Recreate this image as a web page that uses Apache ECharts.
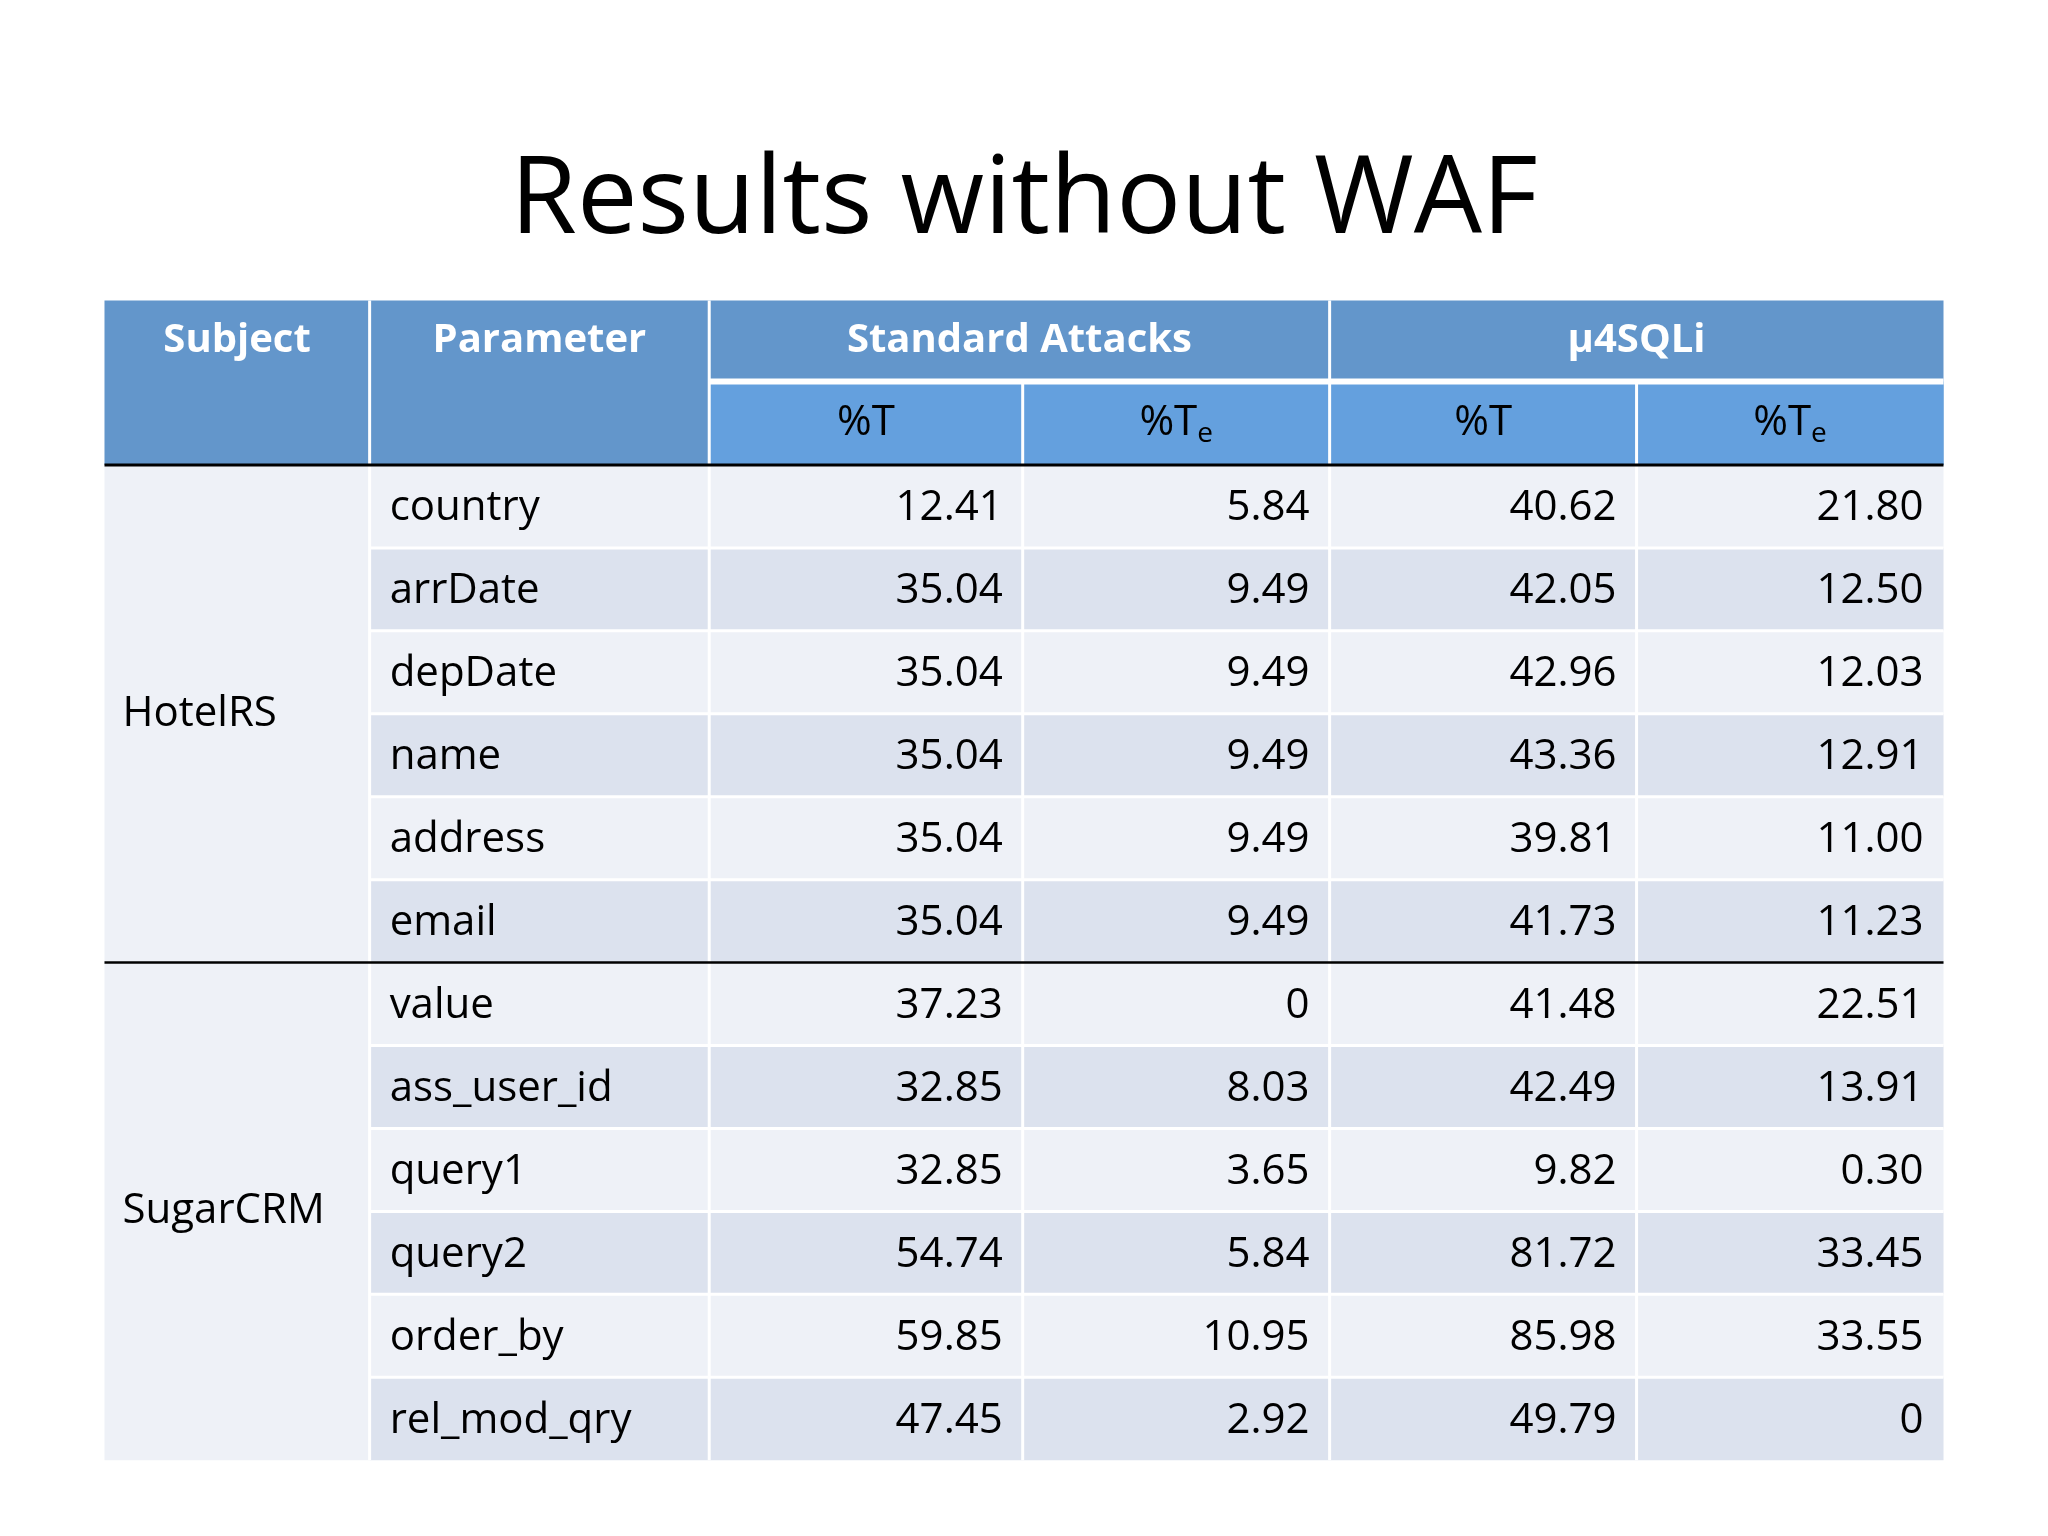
<!DOCTYPE html>
<html><head><meta charset="utf-8">
<script src="https://cdn.jsdelivr.net/npm/echarts@6/dist/echarts.min.js"></script>
<style>html,body{margin:0;padding:0;background:#fff}#c{width:2048px;height:1536px}</style>
</head><body><div id="c"></div>
<script>
const title = "Results without WAF";
const subjects = ["HotelRS", "SugarCRM"];
const parameters = ["country","arrDate","depDate","name","address","email","value","ass_user_id","query1","query2","order_by","rel_mod_qry"];
const stdT  = ["12.41","35.04","35.04","35.04","35.04","35.04","37.23","32.85","32.85","54.74","59.85","47.45"];
const stdTe = ["5.84","9.49","9.49","9.49","9.49","9.49","0","8.03","3.65","5.84","10.95","2.92"];
const muT   = ["40.62","42.05","42.96","43.36","39.81","41.73","41.48","42.49","9.82","81.72","85.98","49.79"];
const muTe  = ["21.80","12.50","12.03","12.91","11.00","11.23","22.51","13.91","0.30","33.45","33.55","0"];

const S = 2048/1568;
const F = "'Open Sans','Noto Sans',sans-serif";
const cols = [80,283,543,783,1018,1253,1488].map(v=>v*S);
const h1 = 230*S, h2 = 292*S, hEnd = 356*S, tEnd = 1118*S;
const rowH = (tEnd-hEnd)/12;
const g = [];
function rect(x,y,w,h,fill){g.push({type:'rect',shape:{x,y,width:w,height:h},style:{fill}});}
function text(x,y,t,opt){g.push({type:'text',x,y,style:Object.assign({text:t,font:`${opt.w||'normal'} ${opt.size||42}px ${F}`,fill:opt.fill||'#000',align:opt.align||'left',verticalAlign:'middle'},opt.extra||{})});}
// header
rect(cols[0],h1,cols[6]-cols[0],hEnd-h1,'#6396CB');
rect(cols[2],h2,cols[6]-cols[2],hEnd-h2,'#64A0DE');
// body rows
for(let i=0;i<12;i++){
  const y=hEnd+i*rowH;
  rect(cols[1],y,cols[6]-cols[1],rowH,i%2===0?'#EEF1F7':'#DCE2EE');
}
rect(cols[0],hEnd,cols[1]-cols[0],tEnd-hEnd,'#EEF1F7');
// white grid lines
const lw=3;
for(let i=1;i<6;i++){
  const top = (i>=3 && i!==4) ? h2 : h1;
  g.push({type:'line',shape:{x1:cols[i],y1:(i===1||i===2||i===4)?h1:h2,x2:cols[i],y2:tEnd},style:{stroke:'#fff',lineWidth:lw}});
}
g.push({type:'line',shape:{x1:cols[2],y1:h2,x2:cols[6],y2:h2},style:{stroke:'#fff',lineWidth:6}});
for(let i=1;i<12;i++){
  if(i===6) continue;
  const y=hEnd+i*rowH;
  g.push({type:'line',shape:{x1:cols[1],y1:y,x2:cols[6],y2:y},style:{stroke:'#fff',lineWidth:lw}});
}
g.push({type:'line',shape:{x1:cols[0],y1:hEnd,x2:cols[6],y2:hEnd},style:{stroke:'#000',lineWidth:3}});
g.push({type:'line',shape:{x1:cols[0],y1:hEnd+6*rowH,x2:cols[6],y2:hEnd+6*rowH},style:{stroke:'#000',lineWidth:2.5}});
// header text
const hy1=(h1+h2)/2, hy2=(h2+hEnd)/2;
const hs=40;
text((cols[0]+cols[1])/2,hy1,"Subject",{w:'bold',size:hs,fill:'#fff',align:'center'});
text((cols[1]+cols[2])/2,hy1,"Parameter",{w:'bold',size:hs,fill:'#fff',align:'center'});
text((cols[2]+cols[4])/2,hy1,"Standard Attacks",{w:'bold',size:hs,fill:'#fff',align:'center'});
text((cols[4]+cols[6])/2,hy1,"µ4SQLi",{w:'bold',size:hs,fill:'#fff',align:'center'});
const sub=['%T','%Te','%T','%Te'];
for(let i=0;i<4;i++){
  const x=(cols[2+i]+cols[3+i])/2;
  if(sub[i]==='%Te'){
    g.push({type:'text',x,y:hy2,style:{text:'{a|%T}{b|e}',align:'center',verticalAlign:'middle',rich:{a:{font:`normal 42px ${F}`,fill:'#000'},b:{font:`normal 28px ${F}`,fill:'#000',padding:[22,0,0,0]}}}});
  } else text(x,hy2,sub[i],{size:42,align:'center'});
}
// body text
const arrs=[stdT,stdTe,muT,muTe];
for(let i=0;i<12;i++){
  const y=hEnd+(i+0.5)*rowH+2;
  text(cols[1]+20,y,parameters[i],{size:42});
  for(let j=0;j<4;j++) text(cols[3+j]-20,y,arrs[j][i],{size:42,align:'right'});
}
text(cols[0]+18,hEnd+3*rowH,subjects[0],{size:42});
text(cols[0]+18,hEnd+9*rowH,subjects[1],{size:42});
text(1024,202,title,{size:108,align:'center'});
const chart=echarts.init(document.getElementById('c'));
chart.setOption({animation:false,graphic:{elements:g}});
</script></body></html>
